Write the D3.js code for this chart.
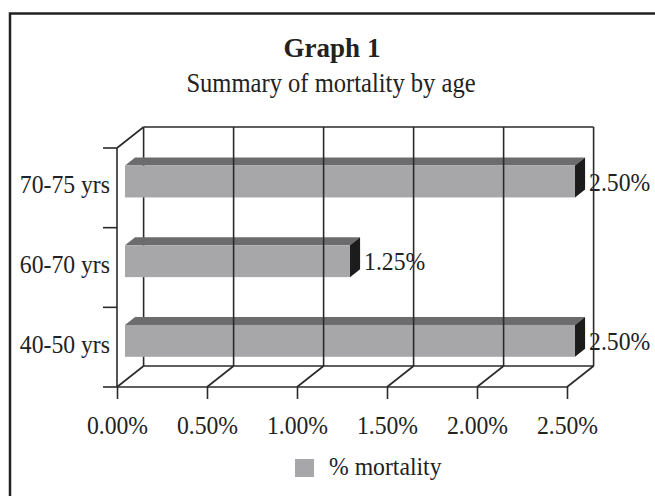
<!DOCTYPE html>
<html>
<head>
<meta charset="utf-8">
<script src="https://cdn.jsdelivr.net/npm/d3@7"></script>
<style>
  html, body { margin: 0; padding: 0; background: #fff; }
  svg { display: block; }
  text { font-family: "Liberation Serif", "Times New Roman", serif; fill: #222; }
</style>
</head>
<body>
<script>
// Mortality by age group, in percent
const categories = ["70-75 yrs", "60-70 yrs", "40-50 yrs"];
const values = [2.5, 1.25, 2.5];
const tickValues = [0, 0.5, 1, 1.5, 2, 2.5];
const seriesName = "% mortality";
const title = "Graph 1";
const subtitle = "Summary of mortality by age";

const W = 655, H = 496;
const FS = 25.5;      // body text size
const SX = 0.93;      // slightly condensed serif
const svg = d3.select("body").append("svg").attr("width", W).attr("height", H);

// Place a condensed text at (x, y)
function label(parent, x, y, txt, opts = {}) {
  return parent.append("text")
    .attr("transform", `translate(${x},${y}) scale(${opts.sx ?? SX},1)`)
    .attr("text-anchor", opts.anchor || "start")
    .attr("font-size", opts.size || FS)
    .attr("font-weight", opts.weight || "normal")
    .text(txt);
}

// Outer frame (runs off the right and bottom edges)
svg.append("rect")
  .attr("x", 10).attr("y", 13.5)
  .attr("width", 700).attr("height", 600)
  .attr("fill", "none").attr("stroke", "#222").attr("stroke-width", 2.5);

// Titles
label(svg, 332, 57, title, { anchor: "middle", size: 27, weight: "bold", sx: 1 });
label(svg, 331, 92, subtitle, { anchor: "middle", size: 27, sx: 0.91 });

// Pseudo-3D geometry: front plane plus a depth offset to the back wall
const x = d3.scaleLinear().domain([0, 2.5]).range([117, 567]);
const yFront = [148, 387];
const depth = { dx: 26.6, dy: -21 };
const y = d3.scaleBand().domain(categories).range(yFront)
  .paddingInner(0.6).paddingOuter(0.3);
const yBand = d3.scaleBand().domain(categories).range(yFront).padding(0);

const line = "#2a2a2a";
const back = v => x(v) + depth.dx;
const yBackTop = yFront[0] + depth.dy;
const yBackBottom = yFront[1] + depth.dy;

const grid = svg.append("g").attr("stroke", line).attr("stroke-width", 1.6).attr("fill", "none");
// back wall left edge and top edge
grid.append("line").attr("x1", back(0)).attr("x2", back(0)).attr("y1", yBackTop).attr("y2", yBackBottom);
grid.append("line").attr("x1", back(0)).attr("x2", back(2.5)).attr("y1", yBackTop).attr("y2", yBackTop);
// left side wall
grid.append("line").attr("x1", x(0)).attr("x2", back(0)).attr("y1", yFront[0]).attr("y2", yBackTop);
grid.append("line").attr("x1", x(0)).attr("x2", x(0)).attr("y1", yFront[0]).attr("y2", yFront[1]);
// floor
grid.append("line").attr("x1", back(0)).attr("x2", back(2.5)).attr("y1", yBackBottom).attr("y2", yBackBottom);
grid.append("line").attr("x1", x(0)).attr("x2", x(2.5)).attr("y1", yFront[1]).attr("y2", yFront[1]);
grid.selectAll("line.floor").data(tickValues).join("line").attr("class", "floor")
  .attr("x1", d => x(d)).attr("x2", d => back(d))
  .attr("y1", yFront[1]).attr("y2", yBackBottom);

// Bars: front face, top face and end face
const t1 = 0.3, t2 = 0.68;
const barG = svg.append("g");
const labelG = svg.append("g");
categories.forEach((c, i) => {
  const v = values[i];
  const fx0 = x(0) + depth.dx * t1, fx1 = x(v) + depth.dx * t1;
  const fy0 = y(c) + depth.dy * t1, fy1 = fy0 + y.bandwidth();
  const ox = depth.dx * (t2 - t1), oy = depth.dy * (t2 - t1);
  barG.append("path")
    .attr("d", `M${fx0},${fy0}L${fx0 + ox},${fy0 + oy}L${fx1 + ox},${fy0 + oy}L${fx1},${fy0}Z`)
    .attr("fill", "#6c6c6e");
  barG.append("path")
    .attr("d", `M${fx1},${fy0}L${fx1 + ox},${fy0 + oy}L${fx1 + ox},${fy1 + oy}L${fx1},${fy1}Z`)
    .attr("fill", "#1c1c1c");
  barG.append("rect")
    .attr("x", fx0).attr("y", fy0).attr("width", fx1 - fx0).attr("height", fy1 - fy0)
    .attr("fill", "#a7a7a9");
  // value label
  label(labelG, fx1 + ox + 4, (fy0 + fy1) / 2 + 9, v.toFixed(2) + "%");
});

// Back-wall gridlines (drawn over the bars)
svg.append("g").attr("stroke", line).attr("stroke-width", 1.6)
  .selectAll("line").data(tickValues.slice(1)).join("line")
  .attr("x1", d => back(d)).attr("x2", d => back(d))
  .attr("y1", yBackTop).attr("y2", yBackBottom);

// X axis along the front floor edge
const xAxis = d3.axisBottom(x).tickValues(tickValues)
  .tickFormat(d => d.toFixed(2) + "%").tickSize(12).tickPadding(16.5);
const gx = svg.append("g").attr("transform", `translate(0,${yFront[1]})`).call(xAxis);
gx.select(".domain").remove();
gx.selectAll(".tick line").attr("stroke", line).attr("stroke-width", 1.6);
gx.selectAll(".tick text").attr("font-size", FS).attr("fill", "#222")
  .attr("font-family", "Liberation Serif, Times New Roman, serif")
  .attr("transform", `scale(${SX},1)`);

// Y axis: ticks at band boundaries, labels at band centres
const bounds = categories.map(c => yBand(c)).concat([yFront[1]]);
svg.append("g").attr("stroke", line).attr("stroke-width", 1.6)
  .selectAll("line").data(bounds).join("line")
  .attr("x1", 103).attr("x2", x(0)).attr("y1", d => d).attr("y2", d => d);
const catG = svg.append("g");
categories.forEach(c => {
  label(catG, 110, y(c) + y.bandwidth() / 2 + 5.5, c, { anchor: "end" });
});

// Legend
svg.append("rect").attr("x", 295).attr("y", 459).attr("width", 19).attr("height", 18)
  .attr("fill", "#a7a7a9");
label(svg, 329, 474.5, seriesName);
</script>
</body>
</html>
